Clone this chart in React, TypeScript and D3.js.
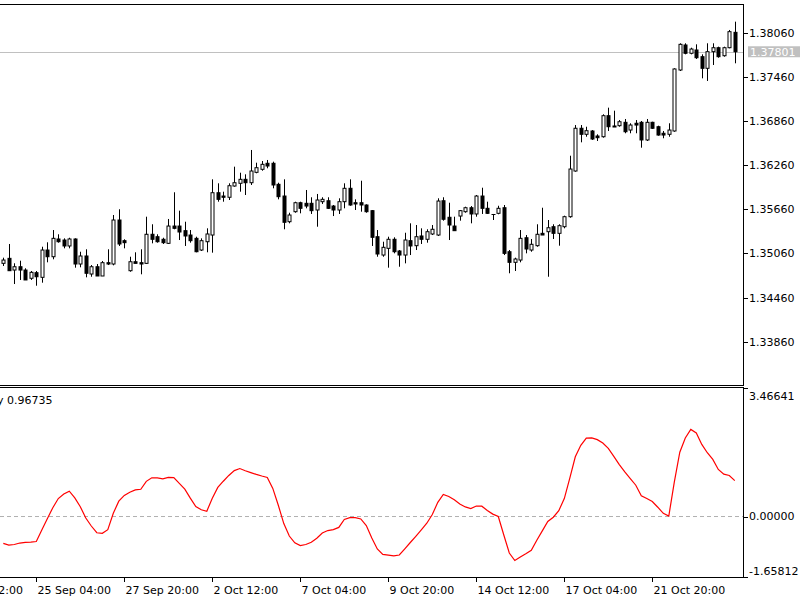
import React from "react";
import * as d3 from "d3";

const openP = [1.34925,1.34993,1.34834,1.34879,1.34834,1.34722,1.34798,1.34735,1.35106,1.35015,1.35256,1.35242,1.35161,1.35256,1.34916,1.35025,1.34780,1.34879,1.34753,1.34934,1.34916,1.35514,1.35233,1.34825,1.34947,1.34934,1.34925,1.35320,1.35287,1.35252,1.35197,1.35432,1.35432,1.35369,1.35310,1.35265,1.35106,1.35219,1.35310,1.35885,1.35840,1.35823,1.35976,1.36013,1.36067,1.36021,1.36162,1.36203,1.36285,1.36285,1.35999,1.35840,1.35491,1.35627,1.35749,1.35741,1.35741,1.35650,1.35763,1.35776,1.35704,1.35650,1.35763,1.35945,1.35749,1.35749,1.35718,1.35641,1.35287,1.35038,1.35129,1.35252,1.35093,1.35038,1.35233,1.35165,1.35297,1.35252,1.35324,1.35310,1.35776,1.35551,1.35432,1.35568,1.35627,1.35681,1.35596,1.35840,1.35673,1.35596,1.35605,1.35681,1.35083,1.34939,1.34970,1.35273,1.35106,1.35165,1.35333,1.35355,1.35423,1.35333,1.35423,1.35559,1.36180,1.36761,1.36679,1.36724,1.36656,1.36646,1.36932,1.36792,1.36796,1.36842,1.36737,1.36829,1.36842,1.36602,1.36842,1.36782,1.36693,1.36679,1.36724,1.37553,1.37893,1.37780,1.37825,1.37734,1.37576,1.37802,1.37856,1.37747,1.37856,1.38065];
const highP = [1.35002,1.35188,1.34926,1.34961,1.34858,1.34821,1.34821,1.35151,1.35211,1.35378,1.35320,1.35265,1.35273,1.35265,1.35083,1.35116,1.34902,1.34916,1.34957,1.35116,1.35582,1.35660,1.35252,1.35015,1.35075,1.35116,1.35559,1.35456,1.35320,1.35273,1.35528,1.35891,1.35641,1.35491,1.35378,1.35287,1.35265,1.35401,1.36067,1.36013,1.35899,1.36013,1.36239,1.36157,1.36135,1.36466,1.36293,1.36316,1.36330,1.36307,1.36021,1.36067,1.35613,1.35763,1.35763,1.35922,1.35823,1.35868,1.35823,1.35823,1.35718,1.35809,1.36013,1.36067,1.35795,1.36048,1.35727,1.35650,1.35378,1.35219,1.35287,1.35279,1.35106,1.35341,1.35469,1.35446,1.35401,1.35388,1.35446,1.35809,1.35823,1.35749,1.35559,1.35650,1.35695,1.35704,1.35854,1.35953,1.35763,1.35596,1.35708,1.35718,1.35106,1.35002,1.35378,1.35310,1.35256,1.35456,1.35681,1.35514,1.35456,1.35456,1.35573,1.36388,1.36805,1.36805,1.36782,1.36737,1.36679,1.36951,1.37041,1.37000,1.36873,1.36887,1.36829,1.36873,1.36860,1.36887,1.36850,1.36796,1.36724,1.36829,1.37576,1.37916,1.37916,1.37856,1.37902,1.37766,1.37916,1.37916,1.37870,1.37870,1.38097,1.38210];
const lowP = [1.34889,1.34825,1.34644,1.34699,1.34699,1.34699,1.34621,1.34662,1.34939,1.34980,1.35206,1.35129,1.35129,1.34866,1.34871,1.34735,1.34743,1.34753,1.34753,1.34902,1.34898,1.35161,1.35129,1.34811,1.34925,1.34776,1.34916,1.35197,1.35206,1.35188,1.35188,1.35388,1.35242,1.35161,1.35206,1.35075,1.35093,1.35075,1.35070,1.35763,1.35763,1.35786,1.35967,1.35899,1.35854,1.35990,1.36149,1.36184,1.36217,1.35945,1.35795,1.35388,1.35469,1.35613,1.35605,1.35673,1.35596,1.35423,1.35732,1.35664,1.35568,1.35596,1.35673,1.35708,1.35650,1.35627,1.35613,1.35161,1.35015,1.35015,1.34866,1.35061,1.34879,1.34925,1.35038,1.35106,1.35188,1.35206,1.35310,1.35297,1.35505,1.35242,1.35369,1.35505,1.35613,1.35469,1.35559,1.35596,1.35596,1.35514,1.35592,1.35038,1.34790,1.34821,1.34939,1.35061,1.35083,1.35151,1.35310,1.34743,1.35256,1.35165,1.35401,1.35545,1.36171,1.36570,1.36646,1.36602,1.36588,1.36633,1.36724,1.36778,1.36782,1.36693,1.36693,1.36693,1.36497,1.36588,1.36751,1.36660,1.36625,1.36646,1.36714,1.37539,1.37766,1.37766,1.37703,1.37440,1.37404,1.37621,1.37720,1.37734,1.37848,1.37644];
const closeP = [1.34970,1.34825,1.34879,1.34834,1.34699,1.34803,1.34743,1.35106,1.35015,1.35265,1.35219,1.35161,1.35256,1.34916,1.35025,1.34790,1.34879,1.34753,1.34934,1.34916,1.35514,1.35188,1.35206,1.34947,1.34925,1.34916,1.35320,1.35252,1.35219,1.35206,1.35432,1.35401,1.35351,1.35297,1.35233,1.35083,1.35233,1.35324,1.35885,1.35795,1.35823,1.35980,1.36021,1.36067,1.36021,1.36180,1.36225,1.36271,1.36248,1.35990,1.35831,1.35483,1.35582,1.35749,1.35673,1.35704,1.35641,1.35786,1.35795,1.35673,1.35650,1.35763,1.35945,1.35718,1.35732,1.35718,1.35627,1.35279,1.35052,1.35143,1.35252,1.35083,1.35038,1.35242,1.35161,1.35287,1.35252,1.35355,1.35388,1.35772,1.35524,1.35446,1.35369,1.35641,1.35681,1.35596,1.35840,1.35673,1.35605,1.35586,1.35673,1.35061,1.34939,1.34984,1.35265,1.35120,1.35184,1.35320,1.35310,1.35409,1.35333,1.35437,1.35559,1.36207,1.36761,1.36679,1.36728,1.36615,1.36633,1.36932,1.36782,1.36778,1.36850,1.36714,1.36805,1.36805,1.36602,1.36842,1.36761,1.36669,1.36669,1.36737,1.37567,1.37902,1.37780,1.37838,1.37720,1.37576,1.37802,1.37856,1.37734,1.37856,1.38074,1.37801];

const indicator = [
  -0.723,-0.769,-0.755,-0.715,-0.698,-0.688,-0.674,-0.364,-0.059,0.237,
  0.485,0.607,0.682,0.504,0.264,-0.040,-0.256,-0.437,-0.453,-0.356,
  0.089,0.413,0.569,0.655,0.717,0.734,0.949,1.044,1.044,1.017,
  1.054,1.049,0.895,0.739,0.496,0.270,0.183,0.143,0.494,0.785,
  0.952,1.108,1.238,1.294,1.235,1.184,1.135,1.092,1.054,0.758,
  0.305,-0.191,-0.526,-0.709,-0.785,-0.755,-0.693,-0.585,-0.445,-0.378,
  -0.353,-0.294,-0.078,-0.032,-0.032,-0.065,-0.243,-0.577,-0.876,-1.022,
  -1.041,-1.060,-1.038,-0.871,-0.701,-0.534,-0.361,-0.181,0.054,0.383,
  0.596,0.539,0.450,0.337,0.259,0.216,0.283,0.278,0.165,0.065,
  0.000,-0.499,-0.984,-1.187,-1.090,-1.003,-0.909,-0.639,-0.386,-0.132,
  -0.019,0.159,0.483,1.038,1.610,1.920,2.114,2.122,2.074,1.982,
  1.837,1.624,1.400,1.203,1.022,0.844,0.561,0.488,0.405,0.251,
  0.086,0.013,0.930,1.734,2.117,2.349,2.252,1.944,1.721,1.540,
  1.270,1.143,1.108,0.96735
];

const priceTicks = [1.3386, 1.3446, 1.3506, 1.3566, 1.3626, 1.3686, 1.3746, 1.3806];
const indTicks = [3.46641, 0, -1.65812];
const timeTickBars = [-10, 6, 22, 38, 54, 70, 86, 102, 118];
const timeTickLabels = ["23 Sep 12:00", "25 Sep 04:00", "27 Sep 20:00", "2 Oct 12:00", "7 Oct 04:00", "9 Oct 20:00", "14 Oct 12:00", "17 Oct 04:00", "21 Oct 20:00"];
const indicatorLabel = "y";

const W = 800, H = 600;
const AX = 743;
const MAIN_TOP = 4, MAIN_BOTTOM = 385;
const IND_TOP = 387, IND_BOTTOM = 577;
const FONT = "DejaVu Sans";

export default function App() {
  const n = closeP.length;
  const x = d3.scaleLinear().domain([0, n - 1]).range([3.3, 3.3 + 5.5 * (n - 1)]);
  const y = d3.scaleLinear().domain([1.3386, 1.3806]).range([341.7, 32.7]);
  const yi = d3.scaleLinear().domain([-1.65812, 3.46641]).range([578, 388]);
  const line = d3.line<number>().x((_, i) => x(i)).y((d) => yi(d));
  const last = closeP[n - 1];
  const lastInd = indicator[n - 1];

  return (
    <svg width={W} height={H} style={{ position: "fixed", left: 0, top: 0, background: "#fff" }} fontFamily={FONT}>
      <defs>
        <clipPath id="mainClip"><rect x={0} y={MAIN_TOP} width={AX} height={MAIN_BOTTOM - MAIN_TOP} /></clipPath>
        <clipPath id="indClip"><rect x={0} y={IND_TOP} width={AX} height={IND_BOTTOM - IND_TOP} /></clipPath>
      </defs>
      <rect x={0} y={0} width={W} height={H} fill="#fff" />

      {/* main panel */}
      <g clipPath="url(#mainClip)">
        <line x1={0} x2={AX} y1={Math.round(y(last)) + 0.5} y2={Math.round(y(last)) + 0.5} stroke="#c0c0c0" strokeWidth={1} />
        {closeP.map((c, i) => {
          const o = openP[i];
          const cx = Math.round(x(i)) + 0.5;
          const top = y(Math.max(o, c));
          const bot = y(Math.min(o, c));
          const bull = c >= o;
          return (
            <g key={i}>
              <line x1={cx} x2={cx} y1={y(highP[i])} y2={y(lowP[i])} stroke="#000" strokeWidth={1} />
              {bot - top < 1 ? (
                <line x1={cx - 2} x2={cx + 2} y1={Math.round(top) + 0.5} y2={Math.round(top) + 0.5} stroke="#000" strokeWidth={1} />
              ) : (
                <rect x={cx - 1.5} y={top} width={3} height={bot - top} fill={bull ? "#fff" : "#000"} stroke="#000" strokeWidth={1} />
              )}
            </g>
          );
        })}
      </g>

      {/* indicator panel */}
      <g clipPath="url(#indClip)">
        <line x1={0} x2={AX} y1={yi(0)} y2={yi(0)} stroke="#b0b0b0" strokeWidth={1} strokeDasharray="4,3" />
        <path d={line(indicator) || ""} fill="none" stroke="#ff0000" strokeWidth={1.2} />
        <text x={-3} y={404} fontSize={11} fill="#000">{`${indicatorLabel} ${lastInd.toFixed(5)}`}</text>
      </g>

      {/* frames */}
      <line x1={0} x2={AX} y1={MAIN_TOP + 0.5} y2={MAIN_TOP + 0.5} stroke="#000" />
      <line x1={0} x2={AX} y1={MAIN_BOTTOM + 0.5} y2={MAIN_BOTTOM + 0.5} stroke="#000" />
      <line x1={0} x2={AX} y1={IND_TOP + 0.5} y2={IND_TOP + 0.5} stroke="#000" />
      <line x1={0} x2={AX} y1={IND_BOTTOM + 0.5} y2={IND_BOTTOM + 0.5} stroke="#000" />
      <line x1={AX + 0.5} x2={AX + 0.5} y1={MAIN_TOP} y2={MAIN_BOTTOM + 1} stroke="#000" />
      <line x1={AX + 0.5} x2={AX + 0.5} y1={IND_TOP} y2={IND_BOTTOM + 1} stroke="#000" />

      {/* price axis */}
      {priceTicks.map((p) => (
        <g key={p}>
          <line x1={AX} x2={AX + 5} y1={Math.round(y(p)) + 0.5} y2={Math.round(y(p)) + 0.5} stroke="#000" />
          <text x={749} y={y(p)} dy="0.36em" fontSize={11} fill="#000">{p.toFixed(5)}</text>
        </g>
      ))}
      <rect x={748} y={y(last) - 5.5} width={52} height={11} fill="#c0c0c0" />
      <text x={750} y={y(last)} dy="0.36em" fontSize={11} fill="#fff">{last.toFixed(5)}</text>

      {/* indicator axis */}
      {indTicks.map((v, k) => {
        const ty = k === 0 ? IND_TOP + 1 : k === indTicks.length - 1 ? IND_BOTTOM : yi(v);
        const textY = k === 0 ? ty + 8 : k === indTicks.length - 1 ? ty - 6 : ty;
        return (
          <g key={v}>
            <line x1={AX} x2={AX + 5} y1={Math.round(ty) + 0.5} y2={Math.round(ty) + 0.5} stroke="#000" />
            <text x={749} y={textY} dy="0.36em" fontSize={11} fill="#000">{v.toFixed(5)}</text>
          </g>
        );
      })}

      {/* time axis */}
      {timeTickBars.map((b, k) => {
        const tx = Math.round(x(b)) + 0.5;
        return (
          <g key={b}>
            <line x1={tx} x2={tx} y1={IND_BOTTOM} y2={IND_BOTTOM + 5} stroke="#000" />
            <text x={tx + 1} y={594} fontSize={11} fill="#000">{timeTickLabels[k]}</text>
          </g>
        );
      })}
    </svg>
  );
}
